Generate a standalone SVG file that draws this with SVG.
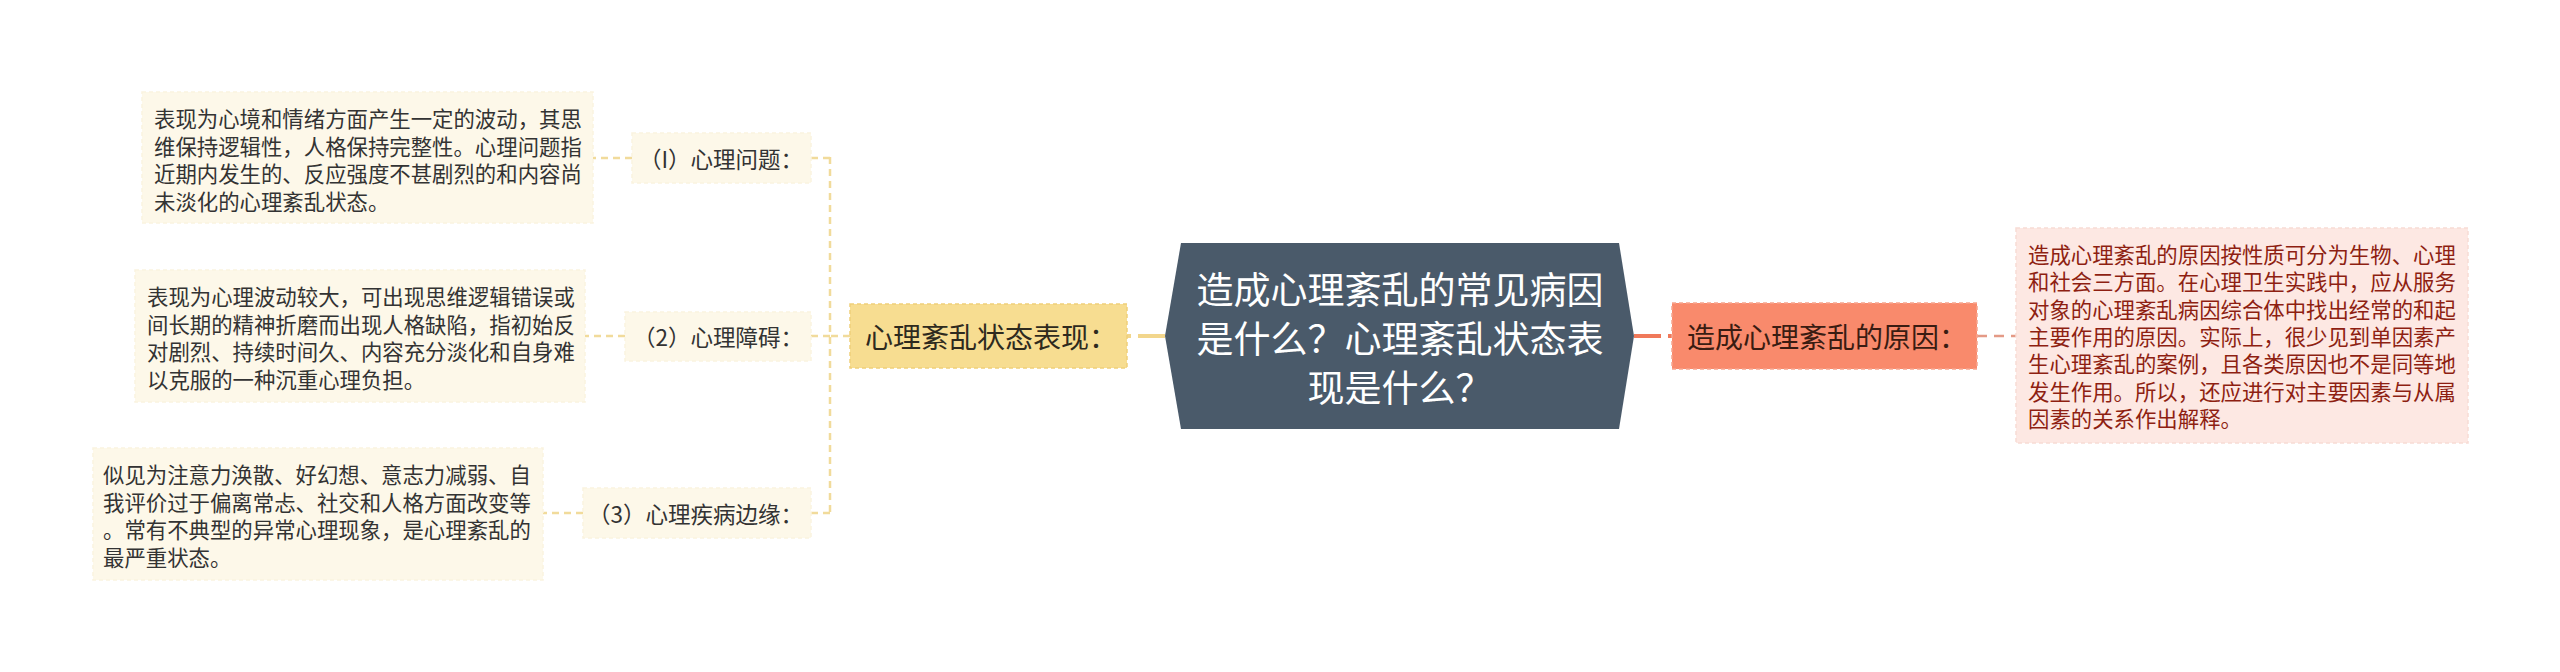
<svg xmlns="http://www.w3.org/2000/svg" width="2560" height="672" viewBox="0 0 2560 672">
<style>
text{font-family:'Noto Sans CJK SC','Noto Sans',sans-serif;dominant-baseline:central}
.sub{fill:#fdf8e9;stroke:#faf3e0;stroke-width:1.5;stroke-dasharray:4 3}
.leaf{fill:#fdf8e9;stroke:#faf3e0;stroke-width:1.5;stroke-dasharray:4 3}
.t21{font-size:21.4px;fill:#333333}
.tsub{font-size:22.5px;fill:#333333}
.rt{font-size:21.4px;fill:#8e1f12}
.cy{fill:none;stroke:#f1db9b;stroke-width:2.5;stroke-dasharray:7 5}
.cr{fill:none;stroke:#e49a86;stroke-width:2.5;stroke-dasharray:10 7}
</style>
<rect width="2560" height="672" fill="#ffffff"/>
<g id="connectors">
  <line x1="1165" y1="336" x2="1127" y2="336" stroke="#f2d68c" stroke-width="4" stroke-dasharray="27 7"/>
  <line x1="1634" y1="336" x2="1672" y2="336" stroke="#f0795a" stroke-width="4" stroke-dasharray="27 7"/>
  <line class="cr" x1="1977" y1="336" x2="2016" y2="336"/>
  <line class="cy" x1="850" y1="336" x2="830" y2="336"/>
  <line class="cy" x1="830" y1="157" x2="830" y2="513"/>
  <line class="cy" x1="830" y1="158" x2="811" y2="158"/>
  <line class="cy" x1="830" y1="336" x2="811" y2="336"/>
  <line class="cy" x1="830" y1="513" x2="811" y2="513"/>
  <line class="cy" x1="632" y1="158" x2="593" y2="158"/>
  <line class="cy" x1="625" y1="336" x2="585" y2="336"/>
  <line class="cy" x1="583" y1="513" x2="543" y2="513"/>
</g>
<g id="center">
  <polygon points="1181,243 1619,243 1634,336 1619,429 1181,429 1165,336" fill="#4a5a6a"/>
  <text x="1400" y="288" font-size="37" fill="#ffffff" text-anchor="middle">造成心理紊乱的常见病因</text>
  <text x="1400" y="337" font-size="37" fill="#ffffff" text-anchor="middle">是什么？心理紊乱状态表</text>
  <text x="1400" y="386" font-size="37" fill="#ffffff" text-anchor="middle">现是什么？</text>
</g>
<g id="node-left-main">
  <rect x="850" y="304" width="277" height="64" fill="#f7dd91" stroke="#efd07a" stroke-width="1.5" stroke-dasharray="4 3"/>
  <text x="865" y="336" font-size="28" fill="#2e2a1e">心理紊乱状态表现：</text>
</g>
<g id="node-right-main">
  <rect x="1672" y="303" width="305" height="66" fill="#f98a6c" stroke="#f6a58f" stroke-width="1.5" stroke-dasharray="4 3"/>
  <text x="1687" y="336" font-size="28" fill="#3a1c12">造成心理紊乱的原因：</text>
</g>
<g id="node-right-text">
  <rect x="2016" y="228" width="452" height="215" fill="#fde8e3" stroke="#f8dcd5" stroke-width="1.5" stroke-dasharray="4 3"/>
  <text class="rt" x="2028" y="253">造成心理紊乱的原因按性质可分为生物、心理</text>
  <text class="rt" x="2028" y="280">和社会三方面。在心理卫生实践中，应从服务</text>
  <text class="rt" x="2028" y="308">对象的心理紊乱病因综合体中找出经常的和起</text>
  <text class="rt" x="2028" y="335">主要作用的原因。实际上，很少见到单因素产</text>
  <text class="rt" x="2028" y="362">生心理紊乱的案例，且各类原因也不是同等地</text>
  <text class="rt" x="2028" y="390">发生作用。所以，还应进行对主要因素与从属</text>
  <text class="rt" x="2028" y="417">因素的关系作出解释。</text>
</g>
<g id="sub1">
  <rect class="sub" x="632" y="133" width="179" height="50"/>
  <text class="tsub" x="803" y="158" text-anchor="end">（I）心理问题：</text>
</g>
<g id="sub2">
  <rect class="sub" x="625" y="312" width="186" height="49"/>
  <text class="tsub" x="803" y="336" text-anchor="end">（2）心理障碍：</text>
</g>
<g id="sub3">
  <rect class="sub" x="583" y="488" width="228" height="50"/>
  <text class="tsub" x="803" y="513" text-anchor="end">（3）心理疾病边缘：</text>
</g>
<g id="leaf1">
  <rect class="leaf" x="142" y="92" width="451" height="131"/>
  <text class="t21" x="154" y="117">表现为心境和情绪方面产生一定的波动，其思</text>
  <text class="t21" x="154" y="145">维保持逻辑性，人格保持完整性。心理问题指</text>
  <text class="t21" x="154" y="172">近期内发生的、反应强度不甚剧烈的和内容尚</text>
  <text class="t21" x="154" y="200">未淡化的心理紊乱状态。</text>
</g>
<g id="leaf2">
  <rect class="leaf" x="135" y="270" width="450" height="132"/>
  <text class="t21" x="147" y="295">表现为心理波动较大，可出现思维逻辑错误或</text>
  <text class="t21" x="147" y="323">间长期的精神折磨而出现人格缺陷，指初始反</text>
  <text class="t21" x="147" y="350">对剧烈、持续时间久、内容充分淡化和自身难</text>
  <text class="t21" x="147" y="378">以克服的一种沉重心理负担。</text>
</g>
<g id="leaf3">
  <rect class="leaf" x="93" y="448" width="450" height="132"/>
  <text class="t21" x="103" y="473">似见为注意力涣散、好幻想、意志力减弱、自</text>
  <text class="t21" x="103" y="501">我评价过于偏离常忐、社交和人格方面改变等</text>
  <text class="t21" x="103" y="528">。常有不典型的异常心理现象，是心理紊乱的</text>
  <text class="t21" x="103" y="556">最严重状态。</text>
</g>
</svg>
